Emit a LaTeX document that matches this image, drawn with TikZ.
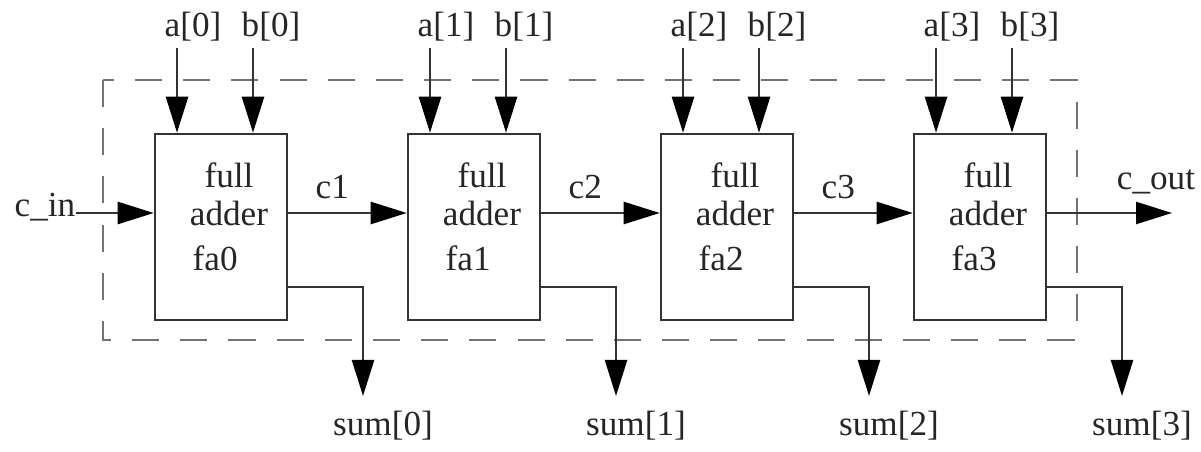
\documentclass[tikz,border=0pt]{standalone}
\usepackage{fontspec}
\setmainfont{Liberation Serif}
\usetikzlibrary{arrows.meta,positioning,calc}
\tikzset{
  adder/.style={draw=black!80, line width=0.7pt, minimum width=1.32cm, minimum height=1.86cm, inner sep=0pt},
  sig/.style={draw=black!80, line width=0.7pt, -{Triangle[length=3.6mm,width=2.2mm,fill=black,color=black]}},
  lbl/.style={font=\fontsize{10}{12}\selectfont, inner sep=0pt, text=black!85},
}
\begin{document}
\begin{tikzpicture}[x=0.01cm,y=-0.01cm]
  \newcommand{\pitch}{253}
  \newcommand{\carryy}{213}
  \useasboundingbox (0,0) rectangle (1201,452);
  \draw[black!55, line width=0.7pt, dash pattern=on 7.7pt off 6pt] (103,80) rectangle (1077,340);
  \foreach \i in {0,...,3}{
    \pgfmathsetmacro{\x}{221+\pitch*\i}
    \node[adder] (fa\i) at (\x,227) {};
    \node[lbl] (full\i) at (\x+8,175) {full};
    \node[lbl] (add\i) at (\x+8,213) {adder};
    \node[lbl, anchor=west] (nm\i) at (\x-29,258) {fa\i};
    % inputs a, b
    \coordinate (ain\i) at (\x-44,48);
    \coordinate (bin\i) at (\x+32,48);
    \node[lbl] (alab\i) at (\x-28,27) {a[\i]};
    \node[lbl] (blab\i) at (\x+50,27) {b[\i]};
    \draw[sig] (ain\i) -- (ain\i |- fa\i.north);
    \draw[sig] (bin\i) -- (bin\i |- fa\i.north);
    % sum out
    \coordinate (sout\i) at (\x+142,396);
    \draw[sig] (fa\i.east |- 0,287) -| (sout\i);
    \node[lbl] (slab\i) at (\x+162,426) {sum[\i]};
    % carry in/out points
    \coordinate (ci\i) at (fa\i.west |- 0,\carryy);
    \coordinate (co\i) at (fa\i.east |- 0,\carryy);
  }
  % carry chain
  \node[lbl] (cin) at (45,207) {c\_in};
  \draw[sig] (cin.east |- ci0) -- (ci0);
  \foreach \i/\j in {0/1,1/2,2/3}{
    \draw[sig] (co\i) -- (ci\j);
    \node[lbl] (clab\j) at ($(co\i)+(44,-26)$) {c\j};
  }
  \coordinate (cout) at (1172,\carryy);
  \draw[sig] (co3) -- (cout);
  \node[lbl] (coutlab) at (1156,182) {c\_out};
\end{tikzpicture}
\end{document}
